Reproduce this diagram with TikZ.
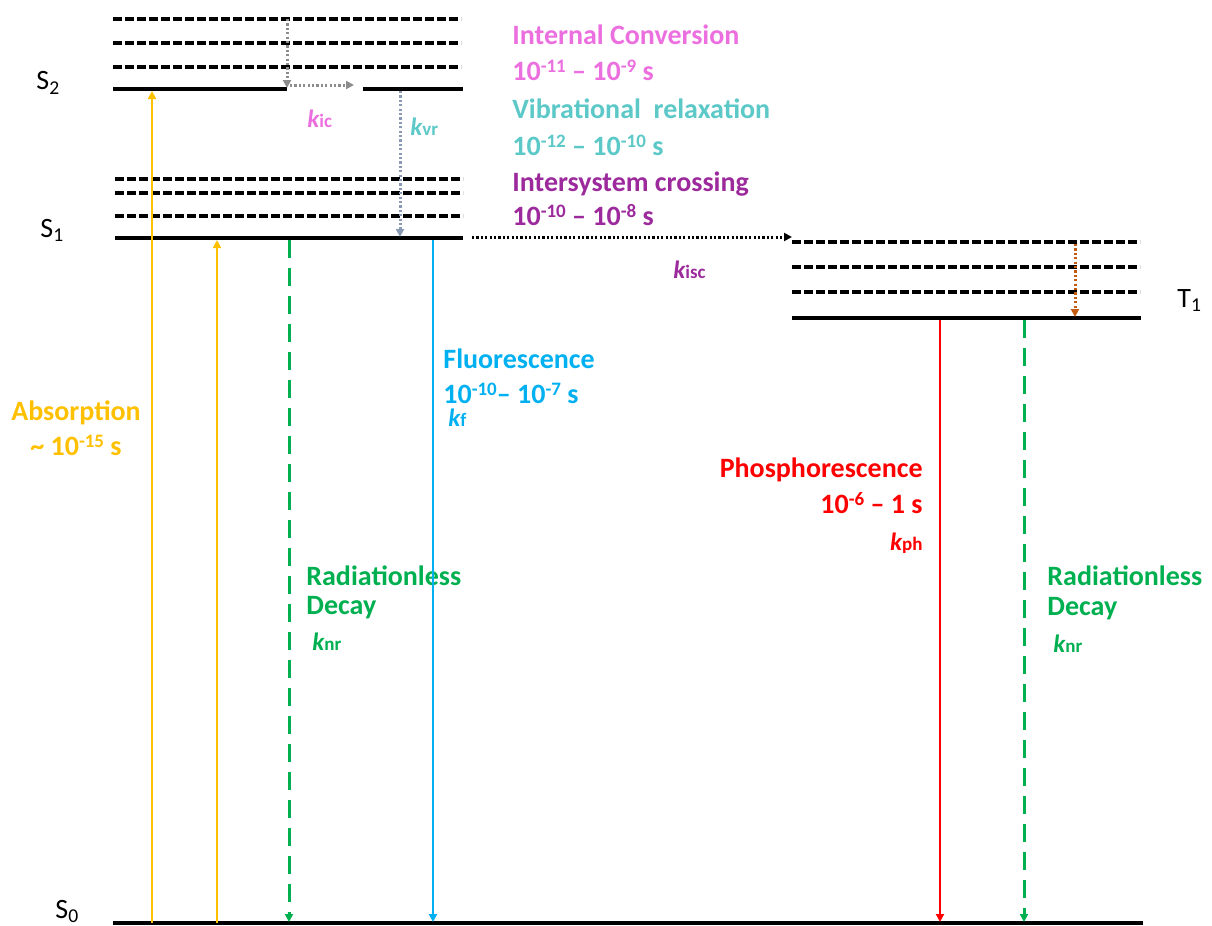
\documentclass[tikz,border=0pt]{standalone}
\usepackage{fontspec}
\setmainfont{Carlito}
\usetikzlibrary{arrows.meta}
\definecolor{absc}{HTML}{FFC000}
\definecolor{fluc}{HTML}{00B0F0}
\definecolor{nrc}{HTML}{00B050}
\definecolor{phc}{HTML}{FF0000}
\definecolor{icc}{HTML}{EC6FDF}
\definecolor{vrc}{HTML}{5CC8C8}
\definecolor{iscc}{HTML}{9C2A9C}
\definecolor{vrarr}{HTML}{8A9AB4}
\definecolor{icarr}{HTML}{8C8C8C}
\definecolor{tarr}{HTML}{C55A11}
\newcommand{\kk}[1]{{\bfseries\itshape k}{\fontsize{9.5}{10}\selectfont\bfseries #1}}
\newcommand{\supx}[1]{\raisebox{3.8pt}{\fontsize{9.5}{10}\selectfont #1}}
\tikzset{
  level/.style={line width=1.6pt},
  vib/.style={line width=1.6pt, dash pattern=on 4.3pt off 1.7pt},
  tip/.style={-{Triangle[length=4pt,width=4pt]}},
  radarr/.style={tip, line width=1.2pt},
  nrarr/.style={tip, line width=1.5pt, dash pattern=on 9pt off 5pt},
  dotarr/.style={tip, line width=1.5pt, dash pattern=on 1.1pt off 1.1pt},
  lab/.style={inner sep=0pt, font=\fontsize{14}{16}\selectfont\bfseries},
  slab/.style={inner sep=0pt, font=\fontsize{14}{16}\selectfont},
  klab/.style={inner sep=0pt, font=\fontsize{12.5}{14}\selectfont},
}
\begin{document}
\begin{tikzpicture}[x=0.5pt,y=-0.5pt]
\useasboundingbox (0,0) rectangle (1212,926);
% ---------- S2 ----------
\foreach \yy in {19,43,67}{\draw[vib] (113,\yy) -- (461,\yy);}
\coordinate (S2a) at (113,89); \coordinate (S2b) at (287,89);
\coordinate (S2c) at (363,89); \coordinate (S2d) at (463,89);
\draw[level] (S2a) -- (S2b);
\draw[level] (S2c) -- (S2d);
% ---------- S1 ----------
\foreach \yy in {179,193,216}{\draw[vib] (115,\yy) -- (463,\yy);}
\coordinate (S1a) at (115,238); \coordinate (S1b) at (463,238);
\draw[level] (S1a) -- (S1b);
% ---------- T1 ----------
\foreach \yy in {242,267,292}{\draw[vib] (792,\yy) -- (1140,\yy);}
\coordinate (T1a) at (792,318); \coordinate (T1b) at (1141,318);
\draw[level] (T1a) -- (T1b);
% ---------- S0 ----------
\coordinate (S0a) at (113,923); \coordinate (S0b) at (1143,923);
\draw[level] (S0a) -- (S0b);
% state labels
\node[slab, anchor=base west] (lS2) at (36,90) {S\textsubscript{2}};
\node[slab, anchor=base west] (lS1) at (40,237) {S\textsubscript{1}};
\node[slab, anchor=base west] (lS0) at (55,918) {S\textsubscript{0}};
\node[slab, anchor=base west] (lT1) at (1177,307) {T\textsubscript{1}};
% ---------- internal conversion / vibrational relaxation ----------
\coordinate (ic0) at (287,19); \coordinate (ic1) at (287,88);
\draw[dotarr, icarr] (ic0) -- (ic1);
\coordinate (ic2) at (290,85); \coordinate (ic3) at (354,85);
\draw[dotarr, icarr] (ic2) -- (ic3);
\coordinate (vr0) at (400,91); \coordinate (vr1) at (400,237);
\draw[dotarr, vrarr] (vr0) -- (vr1);
\node[klab, anchor=base west, text=icc] (kic) at (307,127) {\kk{ic}};
\node[klab, anchor=base west, text=vrc] (kvr) at (410,135) {\kk{vr}};
% ---------- ISC ----------
\coordinate (isc0) at (472,237); \coordinate (isc1) at (792,237);
\draw[dotarr, black] (isc0) -- (isc1);
\node[klab, anchor=base west, text=iscc] (kisc) at (673,278) {\kk{isc}};
\coordinate (t0) at (1075,244); \coordinate (t1) at (1075,317);
\draw[dotarr, tarr] (t0) -- (t1);
% ---------- process texts ----------
\node[lab, anchor=base west, text=icc] (ict) at (512,45) {Internal Conversion};
\node[lab, anchor=base west, text=icc] (icn) at (512,80) {10\supx{-11} – 10\supx{-9} s};
\node[lab, anchor=base west, text=vrc] (vrt) at (512,119) {Vibrational\ \ relaxation};
\node[lab, anchor=base west, text=vrc] (vrn) at (512,155) {10\supx{-12} – 10\supx{-10} s};
\node[lab, anchor=base west, text=iscc] (isct) at (512,191) {Intersystem crossing};
\node[lab, anchor=base west, text=iscc] (iscn) at (512,225) {10\supx{-10} – 10\supx{-8} s};
% ---------- absorption ----------
\coordinate (a1b) at (152,923); \coordinate (a1t) at (152,91);
\coordinate (a2b) at (217,923); \coordinate (a2t) at (217,240);
\draw[radarr, absc] (a1b) -- (a1t);
\draw[radarr, absc] (a2b) -- (a2t);
\node[lab, anchor=base, text=absc] (abst) at (76,420) {Absorption};
\node[lab, anchor=base, text=absc] (absn) at (76,455) {\textasciitilde{} 10\supx{-15} s};
% ---------- radiationless (S1) ----------
\coordinate (n1t) at (289,240); \coordinate (n1b) at (289,922);
\draw[nrarr, nrc] (n1t) -- (n1b);
\node[lab, anchor=base west, text=nrc] (nr1a) at (306,585) {Radiationless};
\node[lab, anchor=base west, text=nrc] (nr1b) at (306,614) {Decay};
\node[klab, anchor=base west, text=nrc] (knr1) at (312,650) {\kk{nr}};
% ---------- fluorescence ----------
\coordinate (ft) at (433,240); \coordinate (fb) at (433,922);
\draw[radarr, fluc] (ft) -- (fb);
\node[lab, anchor=base west, text=fluc] (flt) at (443,368) {Fluorescence};
\node[lab, anchor=base west, text=fluc] (fln) at (443,403) {10\supx{-10}– 10\supx{-7} s};
\node[klab, anchor=base west, text=fluc] (kf) at (448,426) {\kk{f}};
% ---------- phosphorescence ----------
\coordinate (pt) at (940,320); \coordinate (pb) at (940,922);
\draw[radarr, phc] (pt) -- (pb);
\node[lab, anchor=base east, text=phc] (pht) at (923,477) {Phosphorescence};
\node[lab, anchor=base east, text=phc] (phn) at (923,513) {10\supx{-6} – 1 s};
\node[klab, anchor=base east, text=phc] (kph) at (923,550) {\kk{ph}};
% ---------- radiationless (T1) ----------
\coordinate (n2t) at (1024,320); \coordinate (n2b) at (1024,922);
\draw[nrarr, nrc] (n2t) -- (n2b);
\node[lab, anchor=base west, text=nrc] (nr2a) at (1047,585) {Radiationless};
\node[lab, anchor=base west, text=nrc] (nr2b) at (1047,615) {Decay};
\node[klab, anchor=base west, text=nrc] (knr2) at (1053,652) {\kk{nr}};
\end{tikzpicture}
\end{document}
